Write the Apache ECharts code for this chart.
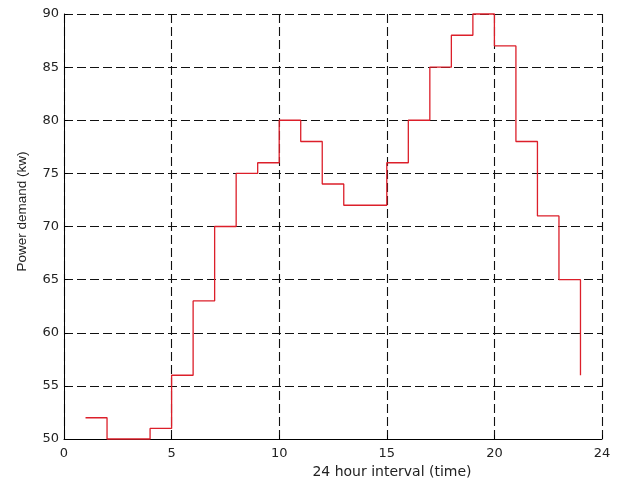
<!DOCTYPE html>
<html>
<head>
<meta charset="utf-8">
<script src="https://cdn.jsdelivr.net/npm/echarts@6/dist/echarts.min.js"></script>
<style>html,body{margin:0;padding:0;background:#fff;}#c{width:628px;height:486px;}</style>
</head>
<body>
<div id="c"></div>
<script>
const hours = [1,2,3,4,5,6,7,8,9,10,11,12,13,14,15,16,17,18,19,20,21,22,23,24];
const demand = [52,50,50,51,56,63,70,75,76,80,78,74,72,72,76,80,85,88,90,87,78,71,65,56];
const xTickLabels = {0:'0',5:'5',10:'10',15:'15',20:'20',25:'24'};
const yTicks = [50,55,60,65,70,75,80,85,90];
const xName = '24 hour interval (time)';
const yName = 'Power demand (kw)';

const chart = echarts.init(document.getElementById('c'), null, {renderer:'canvas'});
const wide = 'DejaVu Sans, sans-serif';
const narrow = 'Liberation Sans, Arial, sans-serif';
chart.setOption({
  animation: false,
  backgroundColor: '#fff',
  grid: {left: 64, right: 26, top: 14, bottom: 47, containLabel: false},
  xAxis: {
    type: 'value', min: 0, max: 25, interval: 5,
    name: xName, nameLocation: 'middle', nameGap: 24,
    nameTextStyle: {color: '#222', fontFamily: wide, fontSize: 14, padding: [0,0,0,118]},
    axisLine: {show: true, onZero: false, lineStyle: {color: '#000', width: 1}},
    axisTick: {show: true, inside: true, length: 4, lineStyle: {color: '#000'}},
    axisLabel: {color: '#222', fontFamily: wide, fontSize: 13, margin: 8,
      formatter: v => xTickLabels[v] !== undefined ? xTickLabels[v] : ''},
    splitLine: {show: true, lineStyle: {color: '#111', type: [9,4], width: 1.1}}
  },
  yAxis: {
    type: 'value', min: yTicks[0], max: yTicks[yTicks.length-1], interval: 5,
    name: yName, nameLocation: 'middle', nameGap: 35,
    nameTextStyle: {color: '#222', fontFamily: narrow, fontSize: 13.5, padding: [0,0,0,30]},
    axisLine: {show: true, onZero: false, lineStyle: {color: '#000', width: 1}},
    axisTick: {show: true, inside: true, length: 4, lineStyle: {color: '#000'}},
    axisLabel: {color: '#222', fontFamily: wide, fontSize: 13, margin: 5},
    splitLine: {show: true, lineStyle: {color: '#111', type: [9,4], width: 1.1}}
  },
  series: [{
    type: 'line', step: 'end', showSymbol: false, symbol: 'none',
    data: hours.map((h,i) => [h, demand[i]]),
    lineStyle: {color: '#dc1f2a', width: 1.3},
    clip: false
  }]
});
</script>
</body>
</html>
